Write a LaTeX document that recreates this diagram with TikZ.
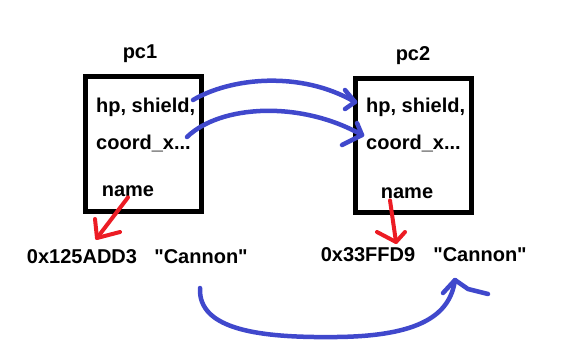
\documentclass[tikz,border=0pt]{standalone}
\usepackage{fontspec}
\setmainfont{Liberation Sans}[Ligatures=TeXOff]
\begin{document}
\begin{tikzpicture}[x=1pt,y=-1pt,
  txt/.style={font=\fontsize{20}{23}\selectfont\bfseries, inner sep=0pt},
  objbox/.style={draw, line width=5pt, minimum width=116pt, minimum height=134pt, inner sep=0pt},
  bluepen/.style={color={rgb,255:red,64;green,72;blue,204}, line width=4.5pt, line cap=round, line join=round},
  redpen/.style={color={rgb,255:red,236;green,28;blue,36}, line width=4pt, line cap=round, line join=round}]
\useasboundingbox (0,0) rectangle (580,342);

% the two objects
\node[objbox] (box1) at (143,144) {};
\node[objbox] (box2) at (413.5,145.5) {};

% titles and fields
\node[txt, anchor=base] (t1) at (140,59) {pc1};
\node[txt, anchor=base] (t2) at (413,61) {pc2};
\node[txt, anchor=base west] (h1) at (96,113) {hp, shield,};
\node[txt, anchor=base west] (c1) at (96,149) {coord\_x...};
\node[txt, anchor=base] (n1) at (128,196) {name};
\node[txt, anchor=base west] (h2) at (366,113) {hp, shield,};
\node[txt, anchor=base west] (c2) at (366,149) {coord\_x...};
\node[txt, anchor=base] (n2) at (407,198) {name};

% addresses and strings
\node[txt, anchor=base] (a1) at (82,263) {0x125ADD3};
\node[txt, anchor=base] (s1) at (201,263) {"Cannon"};
\node[txt, anchor=base] (a2) at (368,261) {0x33FFD9};
\node[txt, anchor=base] (s2) at (480,261) {"Cannon"};

% arrow ends
\coordinate (up1) at (193,100);
\coordinate (up2) at (355,102);
\coordinate (lo1) at (187,137);
\coordinate (lo2) at (362,135);
\coordinate (bt1) at (200,288);
\coordinate (bt2) at (455,280);
\coordinate (rd1) at (97,238);
\coordinate (rd2) at (396,242);

% copied fields
\draw[bluepen] (up1) .. controls (230,78) and (300,70) .. (up2);
\draw[bluepen] (345,90) -- (up2) -- (345,109);
\draw[bluepen] (lo1) .. controls (220,105) and (300,100) .. (lo2);
\draw[bluepen] (357,123) -- (lo2) -- (342,145);

% copied string
\draw[bluepen] (bt1) .. controls (198,330) and (260,338) .. (337,337)
  .. controls (420,336) and (450,315) .. (bt2);
\draw[bluepen] (443,293) -- (bt2) -- (468,289) -- (488,294);

% name pointers
\draw[redpen] ([yshift=-1pt]n1.south) -- (rd1);
\draw[redpen] (95,219) -- (rd1) -- (120,232);
\draw[redpen] ([xshift=-17pt,yshift=-2pt]n2.south) -- (rd2);
\draw[redpen] (377,232) -- (rd2) -- (405,232);
\end{tikzpicture}
\end{document}
